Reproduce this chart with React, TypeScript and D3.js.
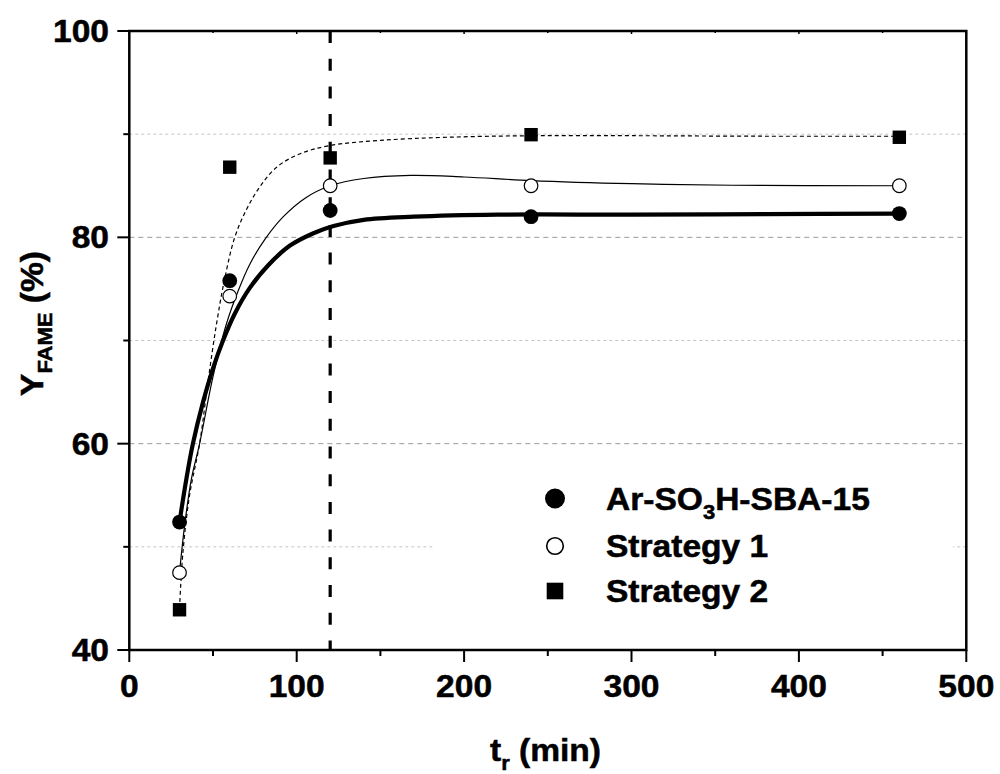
import React from "react";
import * as d3 from "d3";

// measured points
const times = [30, 60, 120, 240, 460];
const arSba = [52.4, 75.8, 82.6, 82.0, 82.3];
const strategy1 = [47.5, 74.3, 85.0, 85.0, 85.0];
const strategy2 = [43.9, 86.8, 87.7, 89.95, 89.7];

// fitted curves
const arFitT = [30, 34, 38, 44, 50, 56, 63, 72, 83, 96, 110, 122, 140, 170, 220, 300, 380, 460];
const arFitY = [52.4, 56.5, 60, 64, 67.3, 70, 72.6, 75.1, 77.3, 79.2, 80.4, 81.1, 81.7, 82.0, 82.2, 82.2, 82.25, 82.3];
const s1FitT = [30, 33, 37, 42, 50, 58, 65, 72, 81, 92, 105, 120, 140, 168, 200, 240, 300, 360, 460];
const s1FitY = [47.5, 52, 56.5, 60, 66.5, 71.6, 74.8, 77.4, 79.8, 82, 83.8, 85.0, 85.7, 86.0, 85.85, 85.5, 85.2, 85.05, 85.0];
const s2FitT = [30, 32, 36, 42, 47, 52, 57, 63, 70, 78, 88, 102, 120, 150, 190, 240, 300, 380, 460];
const s2FitY = [44, 49.4, 55, 60, 66, 71.5, 76, 80, 82.7, 84.9, 86.8, 88.1, 88.9, 89.4, 89.7, 89.85, 89.85, 89.8, 89.8];

const xTicks = [0, 100, 200, 300, 400, 500];
const xMinor = [50, 150, 250, 350, 450];
const yTicks = [40, 60, 80, 100];
const yMinor = [50, 70, 90];
const legendNames = ["Ar-SO3H-SBA-15", "Strategy 1", "Strategy 2"];

const FONT = "'Liberation Sans', Arial, sans-serif";
const FS = 30.5;
const SUB = 20;
const SX = 1.1;
const textStyle = { fontSize: FS, fontWeight: "bold" as const, stroke: "#000", strokeWidth: 0.5 };

export default function App() {
  const W = 1000, H = 774;
  const left = 129.3, right = 966.3, top = 31, bottom = 650;
  const x = d3.scaleLinear().domain([0, 500]).range([left, right]);
  const y = d3.scaleLinear().domain([40, 100]).range([bottom, top]);

  const line = d3
    .line<[number, number]>()
    .x((d) => x(d[0]))
    .y((d) => y(d[1]))
    .curve(d3.curveCatmullRom.alpha(0.5));

  const arPath = line(arFitT.map((t, i) => [t, arFitY[i]]) as [number, number][]) || "";
  const s1Path = line(s1FitT.map((t, i) => [t, s1FitY[i]]) as [number, number][]) || "";
  const s2Path = line(s2FitT.map((t, i) => [t, s2FitY[i]]) as [number, number][]) || "";

  const legX = 555;
  const legY = [498.5, 546, 591];

  return (
    <div style={{ position: "absolute", left: 0, top: 0 }}>
      <svg width={W} height={H} style={{ display: "block", background: "#fff" }} fontFamily={FONT}>
        {/* grid */}
        {yMinor.map((v) => (
          <line key={"gm" + v} x1={left} x2={right} y1={y(v)} y2={y(v)} stroke="#c4c4c4" strokeWidth={1} strokeDasharray="3,3" />
        ))}
        {[60, 80].map((v) => (
          <line key={"gM" + v} x1={left} x2={right} y1={y(v)} y2={y(v)} stroke="#9a9a9a" strokeWidth={1} strokeDasharray="5,4" />
        ))}

        {/* legend background */}
        <rect x={433} y={468} width={520} height={148} fill="#fff" />

        {/* 120 min marker */}
        <line x1={x(120)} x2={x(120)} y1={top} y2={bottom} stroke="#000" strokeWidth={3.2} strokeDasharray="12,15.7" />

        {/* fits */}
        <path d={s2Path} fill="none" stroke="#000" strokeWidth={1.2} strokeDasharray="4,3" />
        <path d={s1Path} fill="none" stroke="#000" strokeWidth={1.2} />
        <path d={arPath} fill="none" stroke="#000" strokeWidth={4.2} />

        {/* points */}
        {times.map((t, i) => (
          <rect key={"s2" + t} x={x(t) - 6.7} y={y(strategy2[i]) - 6.7} width={13.4} height={13.4} fill="#000" />
        ))}
        {times.map((t, i) => (
          <circle key={"s1" + t} cx={x(t)} cy={y(strategy1[i])} r={6.8} fill="#fff" stroke="#000" strokeWidth={1.2} />
        ))}
        {times.map((t, i) => (
          <circle key={"ar" + t} cx={x(t)} cy={y(arSba[i])} r={7.4} fill="#000" />
        ))}

        {/* axes frame */}
        <rect x={left} y={top} width={right - left} height={bottom - top} fill="none" stroke="#000" strokeWidth={2.5} />

        {/* x ticks */}
        {xTicks.map((v) => (
          <g key={"xt" + v}>
            <line x1={x(v)} x2={x(v)} y1={bottom} y2={bottom + 12} stroke="#000" strokeWidth={2} />
            <line x1={x(v)} x2={x(v)} y1={top} y2={top + 3} stroke="#000" strokeWidth={1.5} />
            <text transform={`translate(${x(v)},697) scale(${SX},1)`} textAnchor="middle" {...textStyle}>
              {v}
            </text>
          </g>
        ))}
        {xMinor.map((v) => (
          <g key={"xm" + v}>
            <line x1={x(v)} x2={x(v)} y1={bottom} y2={bottom + 6} stroke="#000" strokeWidth={2} />
            <line x1={x(v)} x2={x(v)} y1={top} y2={top + 2} stroke="#000" strokeWidth={1.5} />
          </g>
        ))}

        {/* y ticks */}
        {yTicks.map((v) => (
          <g key={"yt" + v}>
            <line x1={left - 12} x2={left} y1={y(v)} y2={y(v)} stroke="#000" strokeWidth={2} />
            <text transform={`translate(109,${y(v) + 11}) scale(${SX},1)`} textAnchor="end" {...textStyle}>
              {v}
            </text>
          </g>
        ))}
        {yMinor.map((v) => (
          <line key={"ym" + v} x1={left - 6} x2={left} y1={y(v)} y2={y(v)} stroke="#000" strokeWidth={2} />
        ))}

        {/* axis titles */}
        <text transform={`translate(490,761) scale(${SX},1)`} {...textStyle}>
          t
          <tspan fontSize={SUB} dy={9}>r</tspan>
          <tspan dy={-9}> (min)</tspan>
        </text>
        <text transform={`translate(43,396) rotate(-90) scale(${SX},1)`} {...textStyle}>
          Y
          <tspan fontSize={SUB} dy={9}>FAME</tspan>
          <tspan dy={-9}> (%)</tspan>
        </text>

        {/* legend */}
        <circle cx={legX} cy={legY[0]} r={10} fill="#000" />
        <circle cx={legX} cy={legY[1]} r={8.3} fill="#fff" stroke="#000" strokeWidth={1.6} />
        <rect x={legX - 8.3} y={legY[2] - 8.3} width={16.6} height={16.6} fill="#000" />
        <text transform={`translate(606,${legY[0] + 11}) scale(${SX},1)`} {...textStyle}>
          {legendNames[0].slice(0, 5)}
          <tspan fontSize={SUB} dy={9}>3</tspan>
          <tspan dy={-9}>{legendNames[0].slice(6)}</tspan>
        </text>
        {legendNames.slice(1).map((n, i) => (
          <text key={n} transform={`translate(606,${legY[i + 1] + 11}) scale(${SX},1)`} {...textStyle}>
            {n}
          </text>
        ))}
      </svg>
    </div>
  );
}
